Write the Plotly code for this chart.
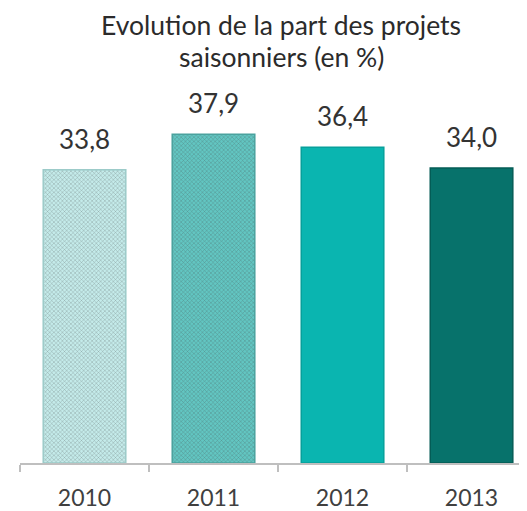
import plotly.graph_objects as go

years = ["2010", "2011", "2012", "2013"]
values = [33.8, 37.9, 36.4, 34.0]
value_labels = ["33,8", "37,9", "36,4", "34,0"]
bar_colors = ["#c4ebea", "#62c6c2", "#0ab5b0", "#07726b"]
pattern_fg = ["#eefafa", "#a3dfdd", "#0ab5b0", "#07726b"]
pattern_shapes = ["x", "x", "", ""]
edge_colors = ["#9ccbc9", "#4aa29e", "#07a09b", "#055c56"]

FONT = "Lato"
# page offset of the figure (browser default body margin)
OFF = 8
PLOT_L, PLOT_T, PLOT_W, PLOT_H = 20 - OFF, 116 - OFF, 507, 347

fig = go.Figure()
fig.add_trace(go.Bar(
    x=years, y=values,
    marker=dict(
        color=bar_colors,
        line=dict(color=edge_colors, width=1.5),
        pattern=dict(shape=pattern_shapes, fgcolor=pattern_fg, size=3, solidity=0.25),
    ),
    width=0.64,
    hoverinfo="skip",
))

for i, (v, lab) in enumerate(zip(values, value_labels)):
    fig.add_annotation(x=i, y=v, xref="x", yref="y", text=lab, showarrow=False,
                       yanchor="bottom", yshift=13,
                       font=dict(family=FONT, size=26, color="#333333"))

title_lines = ["Evolution de la part des projets", "saisonniers (en %)"]
title_y = [25, 57]
for t, ty in zip(title_lines, title_y):
    fig.add_annotation(x=(281 - OFF - PLOT_L) / PLOT_W,
                       y=1 + (PLOT_T - (ty - OFF)) / PLOT_H,
                       xref="paper", yref="paper",
                       text=t, showarrow=False, xanchor="center", yanchor="middle",
                       borderpad=0,
                       font=dict(family=FONT, size=26.5, color="#2b2b2b"))

fig.update_layout(
    width=527, height=511,
    margin=dict(l=PLOT_L, r=527 - PLOT_L - PLOT_W, t=PLOT_T, b=511 - PLOT_T - PLOT_H,
                autoexpand=False),
    paper_bgcolor="white", plot_bgcolor="white",
    showlegend=False,
    xaxis=dict(type="category", range=[-0.5, 3.43], showline=True, linecolor="#bfbfbf",
               linewidth=1.5, ticks="outside", tickson="boundaries", ticklen=7,
               tickcolor="#bfbfbf", tickwidth=1.5, showgrid=False, automargin=False,
               tickfont=dict(family=FONT, size=23, color="#404040"), ticklabelstandoff=14),
    yaxis=dict(range=[0, 40], visible=False, showgrid=False, zeroline=False, automargin=False),
)

fig.write_html("out.html")
